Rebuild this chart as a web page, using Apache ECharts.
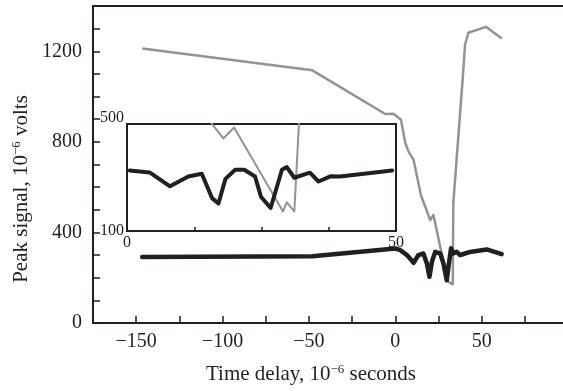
<!DOCTYPE html>
<html>
<head>
<meta charset="utf-8">
<script src="https://cdn.jsdelivr.net/npm/echarts@6/dist/echarts.min.js"></script>
<style>
html,body{margin:0;padding:0;background:#fff;overflow:hidden;}
#chart{width:563px;height:391px;}
</style>
</head>
<body>
<div id="chart"></div>
<script>
// Main chart data
var grayX = [-146.5, -48, -5.8, -1, 3.3, 5.8, 7.7, 10.6, 14.8, 20.2, 22.1, 26, 30.8, 33.3, 33.6, 39, 40.4, 42.3, 52.5, 61.6];
var grayY = [1212, 1116, 923, 924, 898, 795, 757, 720, 566, 455, 477, 337, 181, 171, 530, 1075, 1230, 1282, 1308, 1256];
var blackX = [-146.5, -48, 0, 2.9, 6.8, 10.6, 13.4, 16.3, 18.3, 19.8, 21.2, 23.1, 26, 27.9, 29.8, 30.8, 32.3, 33.6, 35.6, 37.5, 40.4, 43.3, 52.9, 61.6];
var blackY = [292, 295, 329, 322, 300, 266, 300, 307, 263, 204, 270, 314, 307, 263, 189, 248, 330, 307, 314, 300, 307, 314, 325, 304];

// Inset data
var insetBlackX = [0.5, 4.2, 8.0, 11.4, 13.9, 15.8, 17.0, 18.3, 20.1, 21.8, 23.8, 24.9, 26.7, 28.8, 29.7, 31.1, 34.0, 35.6, 37.9, 39.6, 49.3];
var insetBlackY = [326, 319, 267, 304, 314, 223, 203, 295, 329, 329, 304, 228, 186, 329, 339, 299, 318, 285, 305, 304, 326];
var insetGrayX = [13.5, 17.9, 19.9, 29.0, 29.7, 31.1, 33.0];
var insetGrayY = [560, 446, 487, 173, 207, 173, 900];

// Tick labels
var xTickLabels = [-150, -100, -50, 0, 50];
var yTickLabels = [0, 400, 800, 1200];
var insetXTickLabels = [0, 50];
var insetYTickLabels = [100, 500];

function pairs(xs, ys) { return xs.map(function (x, i) { return [x, ys[i]]; }); }
function fmt(v) { return String(v).replace('-', '\u2212'); }

var FONT = 'Liberation Serif';
var INK = '#231f20';
var GRAY = '#939393';

var chart = echarts.init(document.getElementById('chart'), null, {renderer: 'canvas'});
chart.setOption({
  animation: false,
  backgroundColor: '#fff',
  grid: [
    {left: 93, top: 6, width: 475, height: 317, show: true, borderColor: INK, borderWidth: 2,
     backgroundColor: 'transparent', containLabel: false, outerBoundsMode: 'none'},
    {left: 127, top: 124, width: 269, height: 107, show: true, borderColor: INK, borderWidth: 2,
     backgroundColor: 'transparent', containLabel: false, outerBoundsMode: 'none'}
  ],
  xAxis: [
    {
      type: 'value', gridIndex: 0, min: -175, max: 100, interval: 25,
      axisLine: {onZero: false, lineStyle: {color: INK, width: 2}},
      axisTick: {inside: true, length: 7, lineStyle: {color: INK, width: 1.5}},
      splitLine: {show: false},
      axisLabel: {
        fontFamily: FONT, fontSize: 20, color: INK, margin: 9, hideOverlap: false,
        formatter: function (v) { return xTickLabels.indexOf(v) >= 0 ? fmt(v) : ''; }
      }
    },
    {
      type: 'value', gridIndex: 1, min: 0, max: 50, interval: 12.5,
      axisLine: {onZero: false, lineStyle: {color: INK, width: 2}},
      axisTick: {inside: true, length: 4, lineStyle: {color: INK, width: 1.5}},
      splitLine: {show: false},
      axisLabel: {
        fontFamily: FONT, fontSize: 16, color: INK, margin: 4, hideOverlap: false, showMinLabel: true, showMaxLabel: true,
        formatter: function (v) { return insetXTickLabels.indexOf(v) >= 0 ? fmt(v) : ''; }
      }
    }
  ],
  yAxis: [
    {
      type: 'value', gridIndex: 0, min: 0, max: 1400, interval: 100,
      axisLine: {onZero: false, lineStyle: {color: INK, width: 2}},
      axisTick: {inside: true, length: 7, lineStyle: {color: INK, width: 1.5}},
      splitLine: {show: false},
      axisLabel: {
        fontFamily: FONT, fontSize: 20, color: INK, margin: 11, hideOverlap: false,
        formatter: function (v) { return yTickLabels.indexOf(v) >= 0 ? fmt(v) : ''; }
      }
    },
    {
      type: 'value', gridIndex: 1, min: 100, max: 500, interval: 400,
      axisLine: {onZero: false, lineStyle: {color: INK, width: 2}},
      axisTick: {show: false},
      splitLine: {show: false},
      axisLabel: {
        fontFamily: FONT, fontSize: 16, color: INK, margin: 3, hideOverlap: false, showMinLabel: true, showMaxLabel: true,
        formatter: function (v) {
          if (insetYTickLabels.indexOf(v) < 0) return '';
          return v === 500 ? '{t|' + v + '}' : '{b|' + v + '}';
        },
        rich: {
          t: {fontFamily: FONT, fontSize: 16, color: INK, padding: [0, 0, 12, 0]},
          b: {fontFamily: FONT, fontSize: 16, color: INK}
        }
      }
    }
  ],
  series: [
    {type: 'line', xAxisIndex: 0, yAxisIndex: 0, data: pairs(grayX, grayY), symbol: 'none', z: 2,
     lineStyle: {color: GRAY, width: 2.5, join: 'round'}},
    {type: 'line', xAxisIndex: 0, yAxisIndex: 0, data: pairs(blackX, blackY), symbol: 'none', z: 3,
     lineStyle: {color: INK, width: 4.5, join: 'round', cap: 'round'}},
    {type: 'line', xAxisIndex: 1, yAxisIndex: 1, data: pairs(insetGrayX, insetGrayY), symbol: 'none', z: 2, clip: true,
     lineStyle: {color: GRAY, width: 2, join: 'round'}},
    {type: 'line', xAxisIndex: 1, yAxisIndex: 1, data: pairs(insetBlackX, insetBlackY), symbol: 'none', z: 3, clip: true,
     lineStyle: {color: INK, width: 4, join: 'round', cap: 'round'}}
  ],
  graphic: [
    {
      type: 'text', x: 311, y: 374,
      style: {
        text: '{a|Time delay, 10}{s|\u22126}{a| seconds}',
        align: 'center', verticalAlign: 'middle',
        rich: {
          a: {fontFamily: FONT, fontSize: 21, fill: INK, color: INK},
          s: {fontFamily: FONT, fontSize: 13, fill: INK, color: INK, verticalAlign: 'top'}
        }
      }
    },
    {
      type: 'text', x: 21, y: 189, rotation: Math.PI / 2,
      style: {
        text: '{a|Peak signal, 10}{s|\u22126}{a| volts}',
        align: 'center', verticalAlign: 'middle',
        rich: {
          a: {fontFamily: FONT, fontSize: 21, fill: INK, color: INK},
          s: {fontFamily: FONT, fontSize: 13, fill: INK, color: INK, verticalAlign: 'top'}
        }
      }
    }
  ]
});
</script>
</body>
</html>
